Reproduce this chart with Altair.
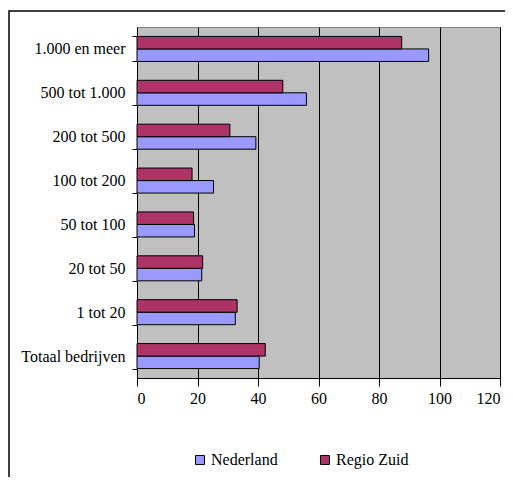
import altair as alt
import pandas as pd

categories = ["1.000 en meer", "500 tot 1.000", "200 tot 500", "100 tot 200",
              "50 tot 100", "20 tot 50", "1 tot 20", "Totaal bedrijven"]
nederland = [96.4, 56.0, 39.3, 25.3, 19.0, 21.4, 32.5, 40.4]
regio_zuid = [87.5, 48.2, 30.7, 18.2, 18.7, 21.7, 33.1, 42.4]
series = ["Nederland", "Regio Zuid"]
colors = ["#9999FF", "#AE3366"]
x_ticks = [0, 20, 40, 60, 80, 100, 120]

rows = []
for c, n, r in zip(categories, nederland, regio_zuid):
    rows.append({"categorie": c, "reeks": "Nederland", "waarde": n})
    rows.append({"categorie": c, "reeks": "Regio Zuid", "waarde": r})
df = pd.DataFrame(rows)

FONT = "Liberation Serif"

bars = alt.Chart(df).mark_bar(stroke="black", strokeWidth=1).encode(
    x=alt.X("waarde:Q", scale=alt.Scale(domain=[0, 120], nice=False),
            axis=alt.Axis(title=None, values=x_ticks, grid=True, gridColor="black",
                          gridWidth=1, domainColor="black", tickColor="black",
                          tickSize=8, labelFont=FONT, labelFontSize=16,
                          labelColor="black", labelPadding=4)),
    y=alt.Y("categorie:N", sort=categories,
            scale=alt.Scale(paddingInner=0.43, paddingOuter=0.215),
            axis=alt.Axis(title=None, tickBand="extent", domainColor="black",
                          tickColor="black", tickSize=5, labelFont=FONT,
                          labelFontSize=16, labelColor="black", labelPadding=7)),
    yOffset=alt.YOffset("reeks:N", sort=["Regio Zuid", "Nederland"],
                        scale=alt.Scale(paddingInner=0, paddingOuter=0)),
    color=alt.Color("reeks:N", scale=alt.Scale(domain=series, range=colors),
                    legend=alt.Legend(title=None, orient="none", legendX=55, legendY=425,
                                      direction="horizontal", symbolType="square",
                                      symbolSize=80, symbolStrokeColor="black",
                                      symbolStrokeWidth=1, labelFont=FONT,
                                      labelFontSize=16, labelColor="black",
                                      labelOffset=3, columnPadding=39)),
)

border = alt.Chart(alt.Data(values=[{"a": 1}])).mark_rect(
    fill=None, stroke="black", strokeWidth=1.5
).encode(
    x=alt.value(-128), x2=alt.value(380), y=alt.value(-16), y2=alt.value(470)
)

chart = alt.layer(border, bars).properties(
    width=363, height=351,
    autosize=alt.AutoSizeParams(type="none"),
    padding={"left": 129, "top": 19, "right": 5, "bottom": 99},
).configure_view(fill="#C0C0C0", stroke="#808080")

chart.save("out.html", embed_options={"renderer": "svg", "actions": False})
